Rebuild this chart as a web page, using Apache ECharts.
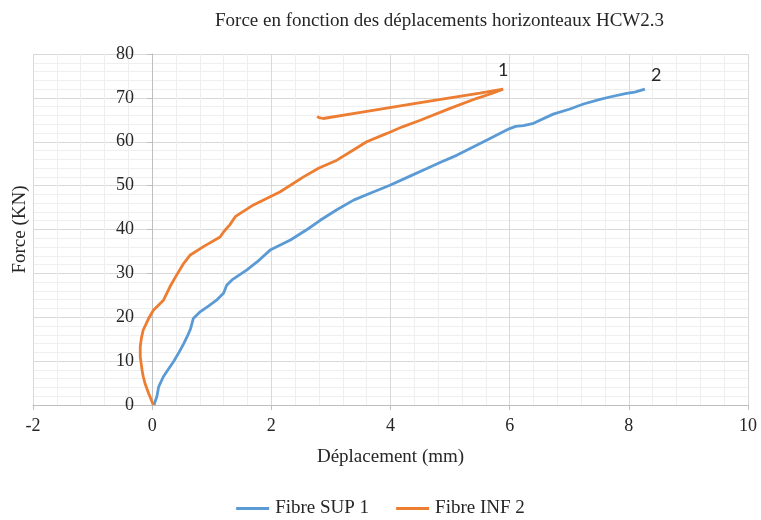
<!DOCTYPE html>
<html>
<head>
<meta charset="utf-8">
<script src="https://cdn.jsdelivr.net/npm/echarts@6/dist/echarts.min.js"></script>
<style>
  html, body { margin: 0; padding: 0; background: #fff; }
  #chart { width: 761px; height: 520px; }
</style>
</head>
<body>
<div id="chart"></div>
<script>
// courbes force / deplacement
var seriesNames = ['Fibre SUP 1', 'Fibre INF 2'];
var xTicks = [-2, 0, 2, 4, 6, 8, 10];
var yTicks = [0, 10, 20, 30, 40, 50, 60, 70, 80];

var fibreSup = [
    [0.03, 0], [0.08, 2], [0.11, 4.2], [0.19, 6.5], [0.28, 8.3], [0.36, 9.9],
    [0.45, 12], [0.53, 14], [0.6, 16], [0.64, 17.2], [0.69, 19.7], [0.81, 21.3],
    [0.95, 22.6], [1.08, 23.9], [1.2, 25.5], [1.25, 27.3], [1.34, 28.5], [1.59, 30.8],
    [1.76, 32.6], [1.98, 35.3], [2.32, 37.6], [2.6, 40], [2.82, 42.1], [3.1, 44.5],
    [3.38, 46.7], [3.7, 48.5], [3.99, 50.1], [4.3, 52], [4.61, 53.9], [4.85, 55.4],
    [5.11, 56.9], [5.37, 58.7], [5.62, 60.4], [5.85, 62], [6.0, 63], [6.1, 63.5],
    [6.23, 63.7], [6.4, 64.2], [6.73, 66.3], [7.0, 67.4], [7.24, 68.6], [7.5, 69.6],
    [7.68, 70.2], [7.96, 71], [8.1, 71.3], [8.27, 72]
];

var fibreInf = [
    [0.02, 0], [-0.06, 2.7], [-0.12, 4.9], [-0.15, 6.5], [-0.17, 8], [-0.2, 11],
    [-0.2, 13.3], [-0.18, 15.3], [-0.15, 17.1], [-0.06, 19.7], [0.02, 21.6], [0.19, 23.9],
    [0.3, 27], [0.41, 29.6], [0.53, 32.3], [0.64, 34.2], [0.86, 36.1], [1.14, 38.3],
    [1.2, 39.5], [1.3, 41], [1.4, 43], [1.7, 45.6], [2.15, 48.6], [2.54, 52],
    [2.8, 54], [3.1, 55.8], [3.35, 57.9], [3.6, 60], [3.94, 61.9], [4.2, 63.4],
    [4.5, 64.9], [5.0, 67.6], [5.45, 69.9], [5.7, 71], [5.89, 72],
    [5.5, 71.1], [4.5, 68.9], [3.5, 66.7], [2.87, 65.3], [2.8, 65.5], [2.77, 65.8]
];

// etiquettes "1" et "2" en bout de courbe
var labelInf = { text: '1', coord: [5.89, 76.3] };
var labelSup = { text: '2', coord: [8.46, 75.2] };

var serif = '"Liberation Serif", "DejaVu Serif", serif';

var myChart = echarts.init(document.getElementById('chart'));
var option = {
    color: ['#5b9bd5', '#ed7d31'],
    animation: false,
    title: {
        text: 'Force en fonction des déplacements horizonteaux HCW2.3',
        left: 210,
        top: 7,
        textStyle: {
            fontFamily: serif,
            fontWeight: 'normal',
            fontSize: 19,
            color: '#262626'
        }
    },
    legend: {
        top: 494,
        itemWidth: 33,
        itemHeight: 3,
        itemGap: 27,
        icon: 'rect',
        textStyle: { fontFamily: serif, fontSize: 19, color: '#262626', padding: [0, 0, 0, 1] },
        data: seriesNames
    },
    grid: {
        left: 33,
        right: 13,
        top: 54,
        bottom: 115,
        outerBoundsMode: 'none',
        containLabel: false
    },
    xAxis: {
        type: 'value',
        min: xTicks[0],
        max: xTicks[xTicks.length - 1],
        interval: 2,
        name: 'Déplacement (mm)',
        nameLocation: 'middle',
        nameGap: 43,
        nameTextStyle: { fontFamily: serif, fontSize: 19, color: '#262626' },
        axisLine: { onZero: false, lineStyle: { color: '#bfbfbf' } },
        axisTick: { show: true, length: 5, lineStyle: { color: '#bfbfbf' } },
        axisLabel: { fontFamily: serif, fontSize: 18, color: '#262626', margin: 12 },
        splitLine: { show: true, lineStyle: { color: '#d9d9d9' } },
        minorTick: { show: false, splitNumber: 5 },
        minorSplitLine: { show: true, lineStyle: { color: '#efefef' } }
    },
    yAxis: {
        type: 'value',
        position: 'left',
        offset: -119,   // axe vertical place sur x = 0
        min: yTicks[0],
        max: yTicks[yTicks.length - 1],
        interval: 10,
        name: 'Force (KN)',
        nameLocation: 'middle',
        nameRotate: 90,
        nameGap: 122,
        nameTextStyle: { fontFamily: serif, fontSize: 19, color: '#262626' },
        axisLine: { show: true, onZero: false, lineStyle: { color: '#bfbfbf' } },
        axisTick: { show: true, length: 5, lineStyle: { color: '#bfbfbf' } },
        axisLabel: { fontFamily: serif, fontSize: 18, color: '#262626', margin: 18 },
        splitLine: { show: true, lineStyle: { color: '#d9d9d9' } },
        minorTick: { show: false, splitNumber: 5 },
        minorSplitLine: { show: true, lineStyle: { color: '#efefef' } }
    },
    series: [{
        name: seriesNames[0],
        type: 'line',
        showSymbol: false,
        lineStyle: { width: 2.8 },
        data: fibreSup,
        markPoint: {
            symbol: 'circle',
            symbolSize: 0,
            label: {
                show: true,
                position: 'inside',
                formatter: labelSup.text,
                fontFamily: 'Lato, "Open Sans", sans-serif',
                fontSize: 18,
                color: '#262626'
            },
            data: [{ coord: labelSup.coord }]
        }
    }, {
        name: seriesNames[1],
        type: 'line',
        showSymbol: false,
        lineStyle: { width: 2.8 },
        data: fibreInf,
        markPoint: {
            symbol: 'circle',
            symbolSize: 0,
            label: {
                show: true,
                position: 'inside',
                formatter: labelInf.text,
                fontFamily: 'Lato, "Open Sans", sans-serif',
                fontSize: 18,
                color: '#262626'
            },
            data: [{ coord: labelInf.coord }]
        }
    }]
};
myChart.setOption(option);
</script>
</body>
</html>
